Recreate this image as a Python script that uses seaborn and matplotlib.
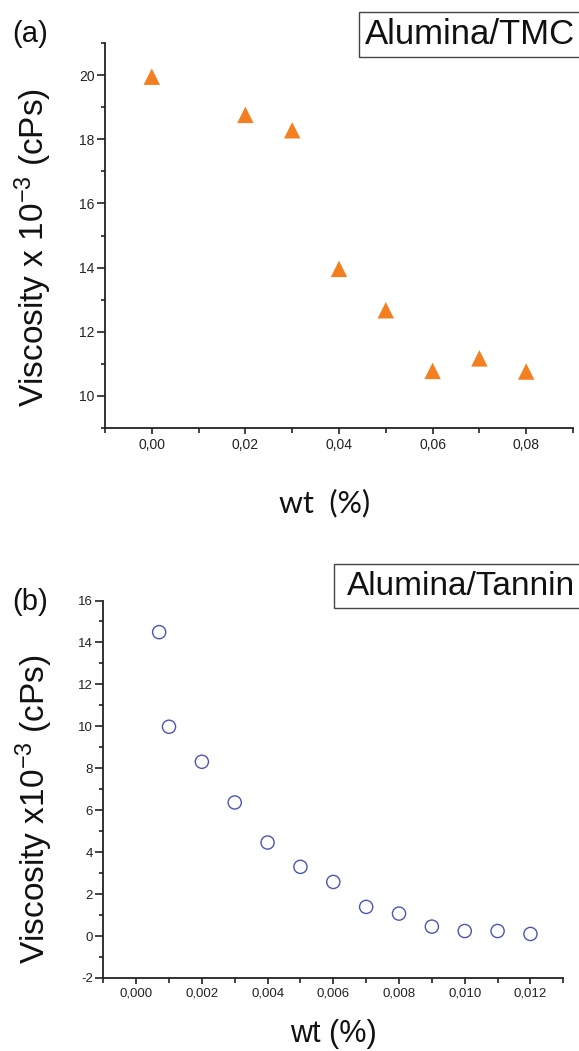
import matplotlib
matplotlib.use("Agg")
import matplotlib.pyplot as plt
import seaborn as sns
import numpy as np
import pandas as pd
from matplotlib.patches import Rectangle
from matplotlib.ticker import FixedLocator

# ---------------- data ----------------
tmc_wt = [0.00, 0.02, 0.03, 0.04, 0.05, 0.06, 0.07, 0.08]
tmc_visc = [19.95, 18.76, 18.28, 13.96, 12.67, 10.78, 11.17, 10.76]

tan_wt = [0.0007, 0.001, 0.002, 0.003, 0.004, 0.005, 0.006, 0.007,
          0.008, 0.009, 0.010, 0.011, 0.012]
tan_visc = [14.49, 9.98, 8.31, 6.37, 4.46, 3.30, 2.58, 1.39,
            1.07, 0.45, 0.24, 0.24, 0.10]

a_xticks = [0.00, 0.02, 0.04, 0.06, 0.08]
a_xticklabels = ["0,00", "0,02", "0,04", "0,06", "0,08"]
a_yticks = [10, 12, 14, 16, 18, 20]
a_yticklabels = ["10", "12", "14", "16", "18", "20"]

b_xticks = [0.000, 0.002, 0.004, 0.006, 0.008, 0.010, 0.012]
b_xticklabels = ["0,000", "0,002", "0,004", "0,006", "0,008", "0,010", "0,012"]
b_yticks = [-2, 0, 2, 4, 6, 8, 10, 12, 14, 16]
b_yticklabels = ["-2", "0", "2", "4", "6", "8", "10", "12", "14", "16"]

df_a = pd.DataFrame({"wt": tmc_wt, "visc": tmc_visc})
df_b = pd.DataFrame({"wt": tan_wt, "visc": tan_visc})

# ---------------- style ----------------
sns.set_style("ticks")
plt.rcParams["font.family"] = ["Liberation Sans", "DejaVu Sans"]
plt.rcParams["mathtext.default"] = "regular"
plt.rcParams["axes.unicode_minus"] = False

W, H = 579, 1051
fig = plt.figure(figsize=(W / 100, H / 100), dpi=100)

def fx(px):
    return px / W

def fy(py):
    return 1 - py / H

ax_a = fig.add_axes([fx(105), fy(428), fx(573) - fx(105), fy(43) - fy(428)])
ax_b = fig.add_axes([fx(103.3), fy(978), fx(563.3) - fx(103.3), fy(600.5) - fy(978)])

sns.scatterplot(data=df_a, x="wt", y="visc", marker="^", s=140,
                color="#F47F20", edgecolor="none", ax=ax_a, legend=False)
sns.scatterplot(data=df_b, x="wt", y="visc", marker="o", s=90,
                facecolor="none", edgecolor="#4B55B5", linewidth=1.0,
                ax=ax_b, legend=False)

def style_axis(ax, xlim, ylim, xt, xtl, yt, ytl, xminor, yminor, fs):
    ax.set_xlim(*xlim)
    ax.set_ylim(*ylim)
    ax.set_xticks(xt)
    ax.set_xticklabels(xtl, fontsize=fs)
    ax.set_yticks(yt)
    ax.set_yticklabels(ytl, fontsize=fs)
    ax.xaxis.set_minor_locator(FixedLocator(xminor))
    ax.yaxis.set_minor_locator(FixedLocator(yminor))
    for s in ["top", "right"]:
        ax.spines[s].set_visible(False)
    for s in ["left", "bottom"]:
        ax.spines[s].set_linewidth(1.3)
        ax.spines[s].set_color("#222222")
    ax.tick_params(axis="x", which="major", direction="out", length=4, width=1.2,
                   pad=3, colors="#222222")
    ax.tick_params(axis="x", which="minor", direction="out", length=3.5, width=1.2,
                   colors="#222222")
    ax.tick_params(axis="y", which="major", direction="out", length=6, width=1.2,
                   pad=1.5, colors="#222222")
    ax.tick_params(axis="y", which="minor", direction="out", length=3, width=1.2,
                   colors="#222222")
    for lab in ax.get_xticklabels() + ax.get_yticklabels():
        lab.set_color("#222222")
    ax.set_facecolor("white")

style_axis(ax_a, (-0.01, 0.09), (9, 21), a_xticks, a_xticklabels,
           a_yticks, a_yticklabels,
           [-0.01, 0.01, 0.03, 0.05, 0.07, 0.09],
           [9, 11, 13, 15, 17, 19, 21], 10)
style_axis(ax_b, (-0.001, 0.013), (-2, 16), b_xticks, b_xticklabels,
           b_yticks, b_yticklabels,
           [-0.001, 0.001, 0.003, 0.005, 0.007, 0.009, 0.011, 0.013],
           [-1, 1, 3, 5, 7, 9, 11, 13, 15], 9.5)

# axis labels
ax_a.set_ylabel("Viscosity x 10$^{-3}$ (cPs)", fontsize=24, color="#111111")
ax_a.yaxis.set_label_coords(-0.109, 0.47)
ax_a.set_xlabel("wt  (%)", fontsize=22, color="#111111", family=["Lato", "DejaVu Sans"])
ax_a.xaxis.set_label_coords(0.469, -0.158)

ax_b.set_ylabel("Viscosity x10$^{-3}$ (cPs)", fontsize=24, color="#111111")
ax_b.yaxis.set_label_coords(-0.105, 0.448)
ax_b.set_xlabel("wt (%)", fontsize=22, color="#111111")
ax_b.xaxis.set_label_coords(0.5, -0.108)

# panel letters
fig.text(fx(12), fy(34.5), "(a)", fontsize=21, va="center", ha="left", color="#111111")
fig.text(fx(12), fy(602), "(b)", fontsize=21, va="center", ha="left", color="#111111")

# boxed labels
fig.patches.append(Rectangle((fx(359), fy(57.3)), fx(640) - fx(359), fy(11.7) - fy(57.3),
                             transform=fig.transFigure, fill=False,
                             edgecolor="#444444", linewidth=1.0))
fig.text(fx(365), fy(34.5), "Alumina/TMC", fontsize=25, va="center", ha="left",
         color="#111111")
fig.patches.append(Rectangle((fx(334), fy(608.3)), fx(640) - fx(334), fy(564.3) - fy(608.3),
                             transform=fig.transFigure, fill=False,
                             edgecolor="#444444", linewidth=1.0))
fig.text(fx(346.7), fy(586.3), "Alumina/Tannin", fontsize=24, va="center", ha="left",
         color="#111111")

fig.savefig("out.png", dpi=100, facecolor="white")
